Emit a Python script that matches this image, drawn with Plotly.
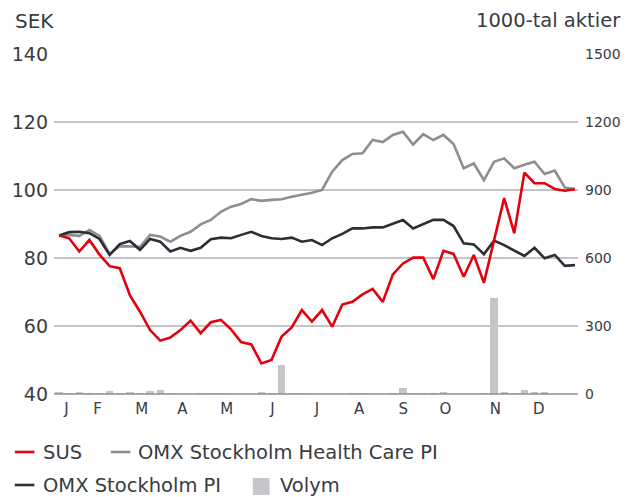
import plotly.graph_objects as go

# ---------------- data ----------------
weeks = list(range(1, 53))

sus = [86.6, 85.8, 81.9, 85.3, 81.0, 77.6, 77.0, 69.1, 64.2, 58.8,
       55.7, 56.6, 58.8, 61.6, 57.9, 61.1, 61.8, 59.0, 55.3, 54.6,
       49.0, 50.0, 56.9, 59.6, 64.7, 61.3, 64.7, 59.8, 66.3, 67.1,
       69.3, 70.9, 67.1, 75.2, 78.4, 80.1, 80.1, 73.8, 82.1, 81.2,
       74.5, 80.9, 72.7, 85.0, 97.6, 87.3, 105.1, 102.0, 102.0, 100.3,
       99.8, 100.2]

omx_health = [86.6, 86.8, 86.5, 88.2, 86.5, 81.2, 83.5, 83.5, 83.3, 86.8,
              86.3, 84.8, 86.5, 87.7, 89.9, 91.2, 93.6, 95.1, 95.9, 97.3,
              96.8, 97.1, 97.3, 98.0, 98.5, 99.2, 100.0, 105.4, 108.8, 110.6,
              110.8, 114.7, 114.1, 116.2, 117.1, 113.4, 116.4, 114.7, 116.2, 113.5,
              106.4, 107.8, 102.9, 108.3, 109.3, 106.4, 107.4, 108.3, 104.7, 105.7,
              100.7, 100.3]

omx_pi = [86.6, 87.6, 87.7, 87.3, 85.6, 80.9, 84.1, 85.0, 82.4, 85.6,
          84.8, 81.9, 83.0, 82.1, 83.0, 85.5, 86.0, 85.8, 86.8, 87.7,
          86.5, 85.8, 85.6, 86.0, 84.8, 85.3, 83.8, 85.8, 87.1, 88.7,
          88.7, 89.0, 89.0, 90.2, 91.2, 88.7, 90.0, 91.2, 91.2, 89.4,
          84.3, 84.0, 81.1, 85.1, 83.8, 82.1, 80.6, 83.0, 79.9, 80.9,
          77.7, 77.9]

volym = [9, 4, 9, 4, 4, 15, 4, 9, 4, 15,
         19, 4, 0, 0, 4, 4, 4, 0, 0, 0,
         9, 4, 128, 4, 4, 0, 0, 0, 0, 4,
         4, 0, 0, 4, 28, 4, 4, 4, 10, 0,
         0, 0, 4, 422, 10, 4, 18, 6, 6, 0,
         0, 0]

month_labels = ["J", "F", "M", "A", "M", "J", "J", "A", "S", "O", "N", "D"]
left_ticks = [40, 60, 80, 100, 120, 140]
right_ticks = [0, 300, 600, 900, 1200, 1500]
series_names = ["SUS", "OMX Stockholm Health Care PI", "OMX Stockholm PI", "Volym"]

# ---------------- layout / style ----------------
W, H = 633, 497
L, R, T, B = 50, 48, 54, 103
month_pos = [1.74, 4.81, 9.17, 13.2, 17.57, 22.1, 26.5, 30.67, 35.02, 39.2, 44.13, 48.42]

RED = "#e3000f"
GRAY = "#8b8e93"
DARK = "#2c2e35"
BAR = "#c4c6ca"
GRID = "#c4c5c8"
TXT = "#3a3b3f"
FONT = "DejaVu Sans, Liberation Sans, sans-serif"

pw = W - L - R
ph = H - T - B


def px(x):
    return (x - L) / pw


def py(y):
    return (H - B - y) / ph


fig = go.Figure()

fig.add_trace(go.Bar(x=weeks, y=volym, name=series_names[3], marker_color=BAR,
                     marker_line_width=0, width=0.72, yaxis="y2", showlegend=False))
fig.add_trace(go.Scatter(x=weeks, y=omx_health, name=series_names[1], mode="lines",
                         line=dict(color=GRAY, width=2.6), showlegend=False))
fig.add_trace(go.Scatter(x=weeks, y=omx_pi, name=series_names[2], mode="lines",
                         line=dict(color=DARK, width=2.6), showlegend=False))
fig.add_trace(go.Scatter(x=weeks, y=sus, name=series_names[0], mode="lines",
                         line=dict(color=RED, width=2.6), showlegend=False))

fig.update_layout(
    width=W, height=H,
    margin=dict(l=L, r=R, t=T, b=B, pad=0),
    paper_bgcolor="white", plot_bgcolor="white",
    font=dict(family=FONT, color=TXT),
    bargap=0,
    xaxis=dict(range=[0.5, 52.3], tickmode="array", tickvals=month_pos,
               ticktext=month_labels, showgrid=False, zeroline=False,
               showline=False, ticks="", tickfont=dict(size=15, color=TXT),
               ticklabelstandoff=4, fixedrange=True),
    yaxis=dict(range=[40, 140], tickmode="array", tickvals=left_ticks,
               showgrid=True, gridcolor=GRID, gridwidth=1.6, zeroline=False,
               showline=False, ticks="", tickfont=dict(size=19, color=TXT),
               ticklabelstandoff=5),
    yaxis2=dict(range=[0, 1500], tickmode="array", tickvals=right_ticks,
                overlaying="y", side="right", showgrid=False, zeroline=False,
                showline=False, ticks="", tickfont=dict(size=14, color=TXT),
                ticklabelstandoff=6),
)

# baseline (darker)
fig.add_shape(type="line", xref="paper", yref="paper", x0=0, x1=1, y0=0, y1=0,
              line=dict(color="#8c8e92", width=1.6), layer="above")

annos = [
    dict(text="SEK", x=px(8), y=py(21), xanchor="left", yanchor="middle",
         font=dict(size=20, color=TXT)),
    dict(text="1000-tal aktier", x=px(631), y=py(21), xanchor="right", yanchor="middle",
         font=dict(size=19.5, color=TXT)),
]

# manual legend
row1, row2 = 452, 485
legend_items = [
    (series_names[0], "line", RED, 10, 37, row1),
    (series_names[1], "line", GRAY, 108, 134, row1),
    (series_names[2], "line", DARK, 10, 37, row2),
    (series_names[3], "box", BAR, 253, 279, row2),
]
for name, kind, col, sx, tx, ry in legend_items:
    if kind == "line":
        fig.add_shape(type="line", xref="paper", yref="paper",
                      x0=px(sx), x1=px(sx + 20), y0=py(ry), y1=py(ry),
                      line=dict(color=col, width=2.6))
    else:
        fig.add_shape(type="rect", xref="paper", yref="paper",
                      x0=px(sx), x1=px(sx + 17), y0=py(ry - 7), y1=py(ry + 10),
                      fillcolor=col, line=dict(width=0))
    annos.append(dict(text=name, x=px(tx), y=py(ry), xanchor="left", yanchor="middle",
                      font=dict(size=19.5, color=TXT)))

for a in annos:
    a.update(xref="paper", yref="paper", showarrow=False)
fig.update_layout(annotations=annos)

fig.write_html("out.html", config={"displayModeBar": False},
               post_script="document.body.style.margin='0';document.body.style.overflow='hidden';")
